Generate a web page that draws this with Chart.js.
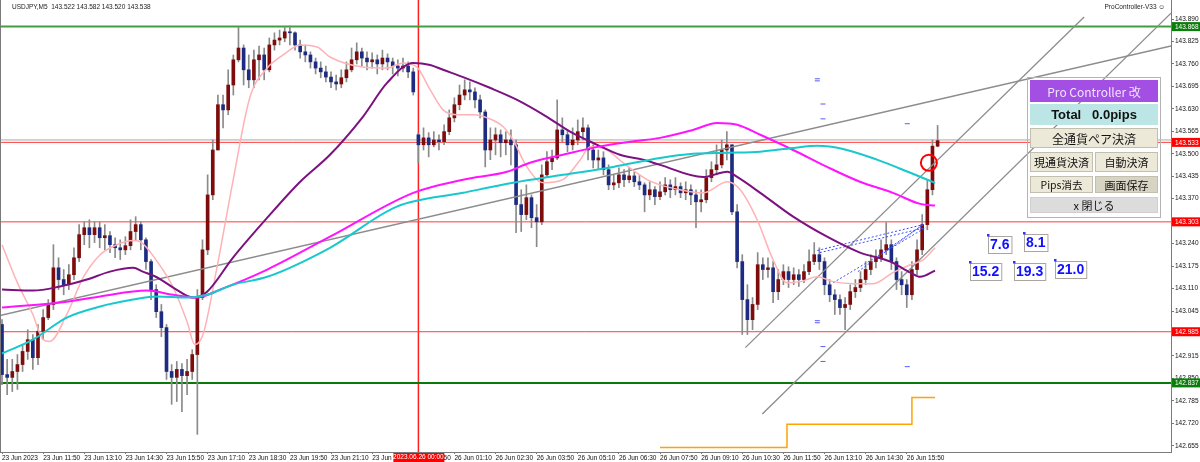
<!DOCTYPE html>
<html>
<head>
<meta charset="utf-8">
<script src="https://cdn.jsdelivr.net/npm/chart.js@4.4.0/dist/chart.umd.min.js"></script>
<style>
    body { margin: 0; background: #fff; }
    #wrap { position: relative; width: 1200px; height: 462px; overflow: hidden; }
    #chart { position: absolute; left: 0; top: 0; }
    .frame { position: absolute; border: 1px solid #b4b4b4; box-sizing: border-box; }
    .btn {
        position: absolute; box-sizing: border-box; display: flex; align-items: center; justify-content: center;
        font-family: "Noto Sans CJK JP", sans-serif; color: #111; border: 1px solid #c2bfb0; background: #ece9d8;
        white-space: nowrap;
    }
</style>
</head>
<body>
<div id="wrap">
    <canvas id="chart" width="1200" height="462"></canvas>
    <div class="frame" style="left:1027px;top:77px;width:134px;height:141px"></div>
    <div class="btn" style="left:1030px;top:80px;width:128px;height:22px;background:#a44fe3;border-color:#a44fe3;color:#efe4ff;font-size:12px">Pro Controller 改</div>
    <div class="btn" style="left:1030px;top:104px;width:128px;height:21px;background:#bce6e6;border-color:#bce6e6;font-size:13px;font-weight:bold;font-family:'Liberation Sans',sans-serif">Total&nbsp;&nbsp;&nbsp;0.0pips</div>
    <div class="btn" style="left:1030px;top:128px;width:128px;height:20px;font-size:12px">全通貨ペア決済</div>
    <div class="btn" style="left:1030px;top:152px;width:63px;height:20px;font-size:11px">現通貨決済</div>
    <div class="btn" style="left:1095px;top:152px;width:63px;height:20px;font-size:11px">自動決済</div>
    <div class="btn" style="left:1030px;top:176px;width:63px;height:17px;font-size:10.5px">Pips消去</div>
    <div class="btn" style="left:1095px;top:176px;width:63px;height:17px;font-size:11px;background:#d8d4c4">画面保存</div>
    <div class="btn" style="left:1030px;top:197px;width:128px;height:16px;font-size:11px;background:#dcdcdc;border-color:#d0d0d0">x 閉じる</div>
</div>
<script>
// USDJPY M5 candles, one entry per bar (23 Jun 10:30 -> 26 Jun 16:40)
const opens = [143.006,142.861,142.853,142.870,142.890,142.928,142.962,142.910,142.986,143.026,
    143.064,143.170,143.136,143.121,143.150,143.199,143.266,143.286,143.266,143.286,
    143.257,143.263,143.237,143.228,143.222,143.234,143.275,143.295,143.251,143.188,
    143.107,143.043,142.997,142.870,142.853,142.876,142.858,142.870,142.919,143.084,
    143.222,143.381,143.511,143.642,143.627,143.699,143.772,143.806,143.743,143.714,
    143.772,143.786,143.743,143.815,143.829,143.835,143.853,143.850,143.815,143.795,
    143.786,143.766,143.748,143.737,143.722,143.708,143.702,143.720,143.743,143.772,
    143.795,143.777,143.766,143.772,143.760,143.777,143.766,143.754,143.748,143.754,
    143.737,143.555,143.526,143.546,143.526,143.540,143.535,143.564,143.604,143.642,
    143.670,143.685,143.679,143.656,143.621,143.511,143.540,143.555,143.532,143.540,
    143.526,143.353,143.324,143.373,143.315,143.303,143.439,143.477,143.488,143.569,
    143.555,143.526,143.540,143.564,143.575,143.511,143.482,143.488,143.454,143.410,
    143.416,143.439,143.425,143.436,143.419,143.410,143.381,143.396,143.376,143.390,
    143.410,143.396,143.405,143.387,143.396,143.381,143.361,143.367,143.431,143.454,
    143.468,143.511,143.526,143.332,143.188,143.078,143.020,143.064,143.179,143.165,
    143.170,143.101,143.136,143.159,143.136,143.150,143.136,143.159,143.188,143.208,
    143.188,143.121,143.092,143.078,143.055,143.064,143.101,143.113,143.136,143.165,
    143.188,143.199,143.222,143.237,143.188,143.136,143.121,143.092,143.165,143.222,
    143.295,143.396,143.522]
const highs = [143.020,142.905,142.905,142.919,142.948,142.991,142.977,143.006,143.049,143.078,
    143.237,143.199,143.165,143.179,143.228,143.295,143.303,143.309,143.303,143.303,
    143.295,143.275,143.257,143.251,143.260,143.309,143.318,143.303,143.257,143.194,
    143.121,143.064,143.006,142.890,142.899,142.893,142.905,142.933,143.107,143.251,
    143.439,143.540,143.670,143.670,143.743,143.786,143.867,143.815,143.786,143.800,
    143.812,143.806,143.835,143.850,143.858,143.867,143.870,143.853,143.829,143.815,
    143.795,143.777,143.766,143.754,143.737,143.728,143.743,143.766,143.806,143.821,
    143.806,143.795,143.792,143.786,143.800,143.789,143.777,143.772,143.777,143.766,
    143.748,143.560,143.575,143.561,143.564,143.555,143.584,143.627,143.662,143.699,
    143.714,143.708,143.691,143.670,143.627,143.575,143.575,143.569,143.564,143.569,
    143.540,143.396,143.410,143.381,143.353,143.468,143.506,143.511,143.656,143.604,
    143.569,143.575,143.598,143.604,143.584,143.526,143.511,143.506,143.468,143.439,
    143.459,143.454,143.459,143.448,143.439,143.416,143.419,143.405,143.419,143.431,
    143.425,143.431,143.416,143.419,143.410,143.396,143.396,143.454,143.477,143.526,
    143.540,143.564,143.526,143.353,143.208,143.121,143.084,143.214,143.199,143.199,
    143.188,143.165,143.179,143.173,143.170,143.165,143.179,143.222,143.243,143.228,
    143.199,143.136,143.107,143.092,143.084,143.121,143.136,143.159,143.188,143.208,
    143.222,143.251,143.301,143.251,143.199,143.159,143.136,143.188,143.251,143.324,
    143.425,143.540,143.582]
const lows = [142.832,142.803,142.812,142.818,142.870,142.905,142.876,142.890,142.962,143.020,
    143.049,143.107,143.092,143.107,143.136,143.188,143.237,143.228,143.243,143.228,
    143.222,143.214,143.199,143.194,143.208,143.222,143.251,143.222,143.165,143.078,
    143.026,142.971,142.847,142.775,142.783,142.754,142.803,142.847,142.688,143.078,
    143.208,143.367,143.511,143.575,143.613,143.670,143.766,143.699,143.691,143.691,
    143.714,143.714,143.737,143.800,143.815,143.824,143.815,143.800,143.777,143.766,
    143.748,143.731,143.720,143.708,143.691,143.685,143.691,143.708,143.737,143.760,
    143.754,143.743,143.748,143.731,143.743,143.743,143.731,143.725,143.737,143.720,
    143.670,143.474,143.511,143.491,143.520,143.511,143.526,143.555,143.592,143.627,
    143.656,143.656,143.633,143.604,143.462,143.483,143.497,143.491,143.497,143.468,
    143.272,143.275,143.309,143.286,143.231,143.295,143.431,143.454,143.483,143.535,
    143.506,143.511,143.526,143.540,143.482,143.459,143.454,143.439,143.396,143.396,
    143.402,143.405,143.416,143.405,143.396,143.332,143.367,143.353,143.367,143.381,
    143.373,143.381,143.373,143.367,143.353,143.286,143.332,143.358,143.419,143.439,
    143.459,143.482,143.324,143.170,142.977,142.977,142.991,143.049,143.136,143.142,
    143.069,143.078,143.121,143.113,143.121,143.116,143.127,143.150,143.179,143.165,
    143.092,143.072,143.035,143.035,142.991,143.049,143.084,143.101,143.121,143.150,
    143.170,143.188,143.208,143.165,143.107,143.092,143.055,143.078,143.150,143.208,
    143.280,143.381,143.520]
const closes = [142.861,142.853,142.870,142.890,142.928,142.962,142.910,142.986,143.026,143.064,
    143.170,143.136,143.121,143.150,143.199,143.266,143.286,143.266,143.286,143.257,
    143.263,143.237,143.228,143.222,143.234,143.275,143.295,143.251,143.188,143.107,
    143.043,142.997,142.870,142.853,142.876,142.858,142.870,142.919,143.084,143.222,
    143.381,143.511,143.642,143.627,143.699,143.772,143.806,143.743,143.714,143.772,
    143.786,143.743,143.815,143.829,143.835,143.853,143.850,143.815,143.795,143.786,
    143.766,143.748,143.737,143.722,143.708,143.702,143.720,143.743,143.772,143.795,
    143.777,143.766,143.772,143.760,143.777,143.766,143.754,143.748,143.754,143.737,
    143.679,143.526,143.546,143.526,143.540,143.535,143.564,143.604,143.642,143.670,
    143.685,143.679,143.656,143.621,143.511,143.540,143.555,143.532,143.540,143.526,
    143.353,143.324,143.373,143.315,143.303,143.439,143.477,143.488,143.569,143.555,
    143.526,143.540,143.564,143.575,143.511,143.482,143.488,143.454,143.410,143.416,
    143.439,143.425,143.436,143.419,143.410,143.381,143.396,143.376,143.390,143.410,
    143.396,143.405,143.387,143.396,143.381,143.361,143.367,143.431,143.454,143.468,
    143.511,143.526,143.332,143.188,143.078,143.020,143.064,143.179,143.165,143.170,
    143.101,143.136,143.159,143.136,143.150,143.136,143.159,143.188,143.208,143.188,
    143.121,143.092,143.078,143.055,143.064,143.101,143.113,143.136,143.165,143.188,
    143.199,143.222,143.237,143.188,143.136,143.121,143.092,143.165,143.222,143.295,
    143.396,143.522,143.538]

// moving averages, sampled along the curves (bar index, price)
const pinkX = [0,2.9,6,8,9.3,12.6,15.8,19.1,22.4,25.5,26.8,30.2,33.3,36,37.5,39.1,41.8,44.9,48.2,51.6,
    54.7,58,61.3,63.8,70.2,74.9,78,80.7,83.3,85.8,88.5,91.6,94.4,97.5,99.4,102.1,105.3,109.1,112.5,114.4,
    117.7,120.8,125.5,128,131.9,136.4,141.1,143.6,146.9,150,152.7,155.3,158.6,161.7,165.6,169.5,173.3,176.7,179.2,181.5]
const pinkY = [143.237,143.130,143.035,142.962,142.957,143.035,143.142,143.208,143.237,143.249,
    143.246,143.188,143.113,143.014,142.948,142.977,143.170,143.419,143.662,143.748,
    143.786,143.815,143.809,143.780,143.751,143.748,143.763,143.751,143.685,143.627,
    143.613,143.613,143.604,143.578,143.540,143.462,143.416,143.425,143.483,143.520,
    143.511,143.474,143.425,143.410,143.396,143.387,143.419,143.396,143.309,143.193,
    143.127,143.130,143.144,143.130,143.124,143.124,143.156,143.179,143.193,143.228]
const purpleX = [0,6,11.3,16.5,21,25.5,27.4,30.2,33.3,37.2,39.9,44.9,51.6,58,63.8,70.2,74.9,80,83.3,85.8,
    89.7,94.9,100.2,106,110.5,115.8,120.2,124.7,128,136.4,141.1,143,147.5,153.9,160.5,166.9,172.8,176.7,178.6,181.5]
const purpleY = [143.107,143.104,143.116,143.136,143.159,143.170,143.159,143.142,143.113,143.084,
    143.101,143.199,143.315,143.419,143.497,143.607,143.705,143.763,143.757,143.743,
    143.722,143.691,143.656,143.607,143.564,143.526,143.497,143.483,143.468,143.433,
    143.448,143.433,143.387,143.318,143.260,143.214,143.188,143.156,143.144,143.162]
const magentaX = [0,12.6,19.1,28.2,33.3,37.9,42.4,51.6,63.8,80,89.7,98.2,102.7,109.1,115.8,122.2,128,134.4,
    139.1,143,147.5,153.9,160.5,166.9,173.3,178.6,181.5]
const magentaY = [143.055,143.072,143.087,143.104,143.092,143.084,143.107,143.165,143.260,143.387,143.425,
    143.448,143.474,143.497,143.520,143.535,143.546,143.569,143.589,143.584,143.555,143.511,143.462,143.419,
    143.387,143.355,143.350]
const cyanX = [0,6,12.6,19.1,25.5,30.2,36,39.9,44.9,51.6,63.8,76.8,89.7,99.4,109.1,118.9,128,134.4,141.1,
    147.5,153.9,158.6,163.6,170.2,176.7,181.5]
const cyanY = [142.922,142.962,143.026,143.058,143.078,143.087,143.084,143.092,143.121,143.144,143.228,
    143.347,143.387,143.416,143.439,143.462,143.488,143.500,143.503,143.506,143.517,143.523,143.514,143.483,
    143.445,143.416]

// step indicator at the bottom
const stepX = [128, 152.7, 177, 181.5]
const stepY = [142.650, 142.717, 142.795, 142.795]

// horizontal levels
const levels = [143.868, 143.540, 143.533, 143.303, 142.985, 142.837]
const levelColors = ['#3f9f3f', '#a8a8a8', '#ff3b3b', '#ff3b3b', '#ff3b3b', '#0b780b']
const levelWidths = [2, 1, 1, 1, 1, 2]
const tagLevels = [143.868, 143.533, 143.303, 142.985, 142.837]
const tagColors = ['#0b7d0b', '#ff0000', '#ff0000', '#ff0000', '#0b7d0b']

// trend lines: start/end bar index and price
const trendX = [[-0.4, 227.4], [144.6, 210.5], [147.9, 227.4]]
const trendY = [[143.032, 143.812], [142.939, 143.896], [142.747, 143.907]]

// dotted fan lines
const fanX = [[158.6, 179.2], [159.1, 179.6], [161.7, 179.6], [166.5, 179.2], [169.8, 179.2]]
const fanY = [[143.220, 143.295], [143.214, 143.286], [143.127, 143.286], [143.159, 143.295], [143.199, 143.295]]

// small blue marks
const markX = [158.6, 158.6, 159.7, 159.7, 176.1, 158.6, 158.6, 159.7, 159.7, 176.1]
const markY = [143.717, 143.711, 143.644, 143.601, 143.587, 143.017, 143.011, 142.942, 142.899, 142.884]

// pips labels
const pipText = ['7.6', '8.1', '15.2', '19.3', '21.0']
const pipX = [191.8, 198.8, 188.3, 196.9, 204.9]
const pipY = [143.266, 143.272, 143.188, 143.188, 143.194]

const circleX = 180.3
const circleY = 143.474
const sessionBar = 81

const priceTicks = [143.890, 143.825, 143.760, 143.695, 143.630, 143.565, 143.500, 143.435, 143.370, 143.305,
    143.240, 143.175, 143.110, 143.045, 142.980, 142.915, 142.850, 142.785, 142.720, 142.655]
const timeTickBars = [0, 8, 16, 24, 32, 40, 48, 56, 64, 72, 80, 88, 96, 104, 112, 120, 128, 136, 144, 152, 160, 168, 176]
const timeLabels = ['23 Jun 2023', '23 Jun 11:50', '23 Jun 13:10', '23 Jun 14:30', '23 Jun 15:50', '23 Jun 17:10',
    '23 Jun 18:30', '23 Jun 19:50', '23 Jun 21:10', '23 Jun 22:30', '23 Jun 23:50', '26 Jun 01:10', '26 Jun 02:30',
    '26 Jun 03:50', '26 Jun 05:10', '26 Jun 06:30', '26 Jun 07:50', '26 Jun 09:10', '26 Jun 10:30', '26 Jun 11:50',
    '26 Jun 13:10', '26 Jun 14:30', '26 Jun 15:50']

const X_MIN = -0.39
const X_MAX = 227.4
const Y_MIN = 142.637
const Y_MAX = 143.945
const AXIS_FONT = { family: 'Liberation Sans', size: 6.5 }

function pts(xs, ys) {
    return xs.map((x, i) => ({ x: x, y: ys[i] }))
}

function lineSet(xs, ys, color, width, extra) {
    return Object.assign({
        type: 'line',
        data: pts(xs, ys),
        borderColor: color,
        borderWidth: width,
        pointRadius: 0,
        fill: false,
        order: 2
    }, extra || {})
}

function buildDatasets() {
    const idx = closes.map((c, i) => i)
    const sets = []

    levels.forEach((v, i) => {
        sets.push(lineSet([X_MIN, X_MAX], [v, v], levelColors[i], levelWidths[i], { order: 20 }))
    })
    sets.push(lineSet([sessionBar, sessionBar], [Y_MIN, Y_MAX], '#ff2020', 1.5, { order: 20 }))

    sets.push({
        type: 'bar',
        data: idx.map(i => ({ x: i, y: [lows[i], highs[i]] })),
        backgroundColor: '#8a8a8a',
        barThickness: 1,
        grouped: false,
        order: 11
    })
    sets.push({
        type: 'bar',
        data: idx.map(i => ({ x: i, y: [opens[i], closes[i]] })),
        backgroundColor: idx.map(i => closes[i] >= opens[i] ? '#7d0d0d' : '#1d2c82'),
        barThickness: 3,
        minBarLength: 1,
        grouped: false,
        order: 10
    })

    trendX.forEach((xs, i) => {
        sets.push(lineSet(xs, trendY[i], '#8c8c8c', 1.3, { order: 5 }))
    })
    fanX.forEach((xs, i) => {
        sets.push(lineSet(xs, fanY[i], '#3a4cff', 1, { borderDash: [2, 2], order: 4 }))
    })

    sets.push(lineSet(cyanX, cyanY, '#19c8cc', 2, { cubicInterpolationMode: 'monotone' }))
    sets.push(lineSet(magentaX, magentaY, '#ff14ff', 2, { cubicInterpolationMode: 'monotone' }))
    sets.push(lineSet(purpleX, purpleY, '#7c1180', 2, { cubicInterpolationMode: 'monotone' }))
    sets.push(lineSet(pinkX, pinkY, '#ffb2b6', 1.5, { cubicInterpolationMode: 'monotone' }))
    sets.push(lineSet(stepX, stepY, '#ffa300', 1.5, { stepped: 'before' }))

    sets.push({
        type: 'scatter',
        data: pts(markX, markY),
        pointStyle: 'line',
        pointRadius: 2.5,
        borderColor: '#5a5aff',
        borderWidth: 1,
        order: 1
    })
    sets.push({
        type: 'scatter',
        data: [{ x: circleX, y: circleY }],
        pointStyle: 'circle',
        pointRadius: 8,
        borderColor: '#ff0000',
        backgroundColor: 'rgba(0,0,0,0)',
        borderWidth: 2,
        order: 0
    })
    return sets
}

const overlay = {
    id: 'overlay',
    afterDraw(chart) {
        const ctx = chart.ctx
        const xs = chart.scales.x
        const ys = chart.scales.y
        const area = chart.chartArea
        ctx.save()

        // left frame
        ctx.strokeStyle = '#7a7a7a'
        ctx.lineWidth = 1
        ctx.beginPath()
        ctx.moveTo(area.left + 0.5, area.top)
        ctx.lineTo(area.left + 0.5, area.bottom)
        ctx.stroke()

        // header
        const n = closes.length - 1
        ctx.font = '6.5px "Liberation Sans"'
        ctx.fillStyle = '#222'
        ctx.textBaseline = 'middle'
        ctx.textAlign = 'left'
        ctx.fillText('USDJPY,M5  ' + [opens[n], highs[n], lows[n], closes[n]].map(v => v.toFixed(3)).join(' '), 12, 7)
        ctx.textAlign = 'right'
        ctx.fillText('ProController-V33 \u263A', 1165, 7)

        // pips labels
        ctx.font = 'bold 14px "Liberation Sans"'
        ctx.textAlign = 'left'
        pipText.forEach((t, i) => {
            const px = Math.round(xs.getPixelForValue(pipX[i]))
            const py = Math.round(ys.getPixelForValue(pipY[i]))
            const w = ctx.measureText(t).width + 4
            ctx.fillStyle = '#fff'
            ctx.fillRect(px, py + 1, w, 17)
            ctx.strokeStyle = '#aaa59e'
            ctx.strokeRect(px + 0.5, py + 1.5, w, 17)
            ctx.fillStyle = '#1010ff'
            ctx.fillText(t, px + 2, py + 10.5)
            ctx.fillStyle = '#3030ff'
            ctx.fillRect(px - 1, py - 1, 2.5, 2.5)
        })

        // price tags on the axis
        ctx.font = '6.5px "Liberation Sans"'
        tagLevels.forEach((v, i) => {
            const py = ys.getPixelForValue(v)
            ctx.fillStyle = tagColors[i]
            ctx.fillRect(area.right + 1, py - 4.5, 28, 9)
            ctx.fillStyle = '#fff'
            ctx.fillText(v.toFixed(3), area.right + 4, py + 0.5)
        })

        // session start tag
        const sx = xs.getPixelForValue(sessionBar)
        ctx.fillStyle = '#ff0000'
        ctx.fillRect(sx - 25, area.bottom + 1, 51, 9)
        ctx.fillStyle = '#fff'
        ctx.textAlign = 'center'
        ctx.fillText('2023.06.26 00:00', sx, area.bottom + 5.5)
        ctx.restore()
    }
}

function renderChart() {
    const ctx = document.querySelector('#chart').getContext('2d')
    new Chart(ctx, {
        type: 'bar',
        data: { datasets: buildDatasets() },
        options: {
            responsive: false,
            animation: false,
            devicePixelRatio: 1,
            layout: { padding: 0, autoPadding: false },
            plugins: { legend: { display: false }, tooltip: { enabled: false } },
            scales: {
                x: {
                    type: 'linear',
                    min: X_MIN,
                    max: X_MAX,
                    offset: false,
                    grid: { display: true, drawOnChartArea: false, offset: false, tickLength: 2, color: '#7a7a7a' },
                    border: { display: true, color: '#7a7a7a' },
                    afterBuildTicks: s => { s.ticks = timeTickBars.map(v => ({ value: v })) },
                    afterFit: s => {
                        s.height = 10
                        s.paddingLeft = 0
                        s.paddingRight = 0
                    },
                    ticks: {
                        autoSkip: false,
                        maxRotation: 0,
                        align: 'start',
                        padding: 0,
                        font: AXIS_FONT,
                        color: '#111',
                        callback: (v, i) => timeLabels[i]
                    }
                },
                y: {
                    position: 'right',
                    min: Y_MIN,
                    max: Y_MAX,
                    grid: { display: true, drawOnChartArea: false, tickLength: 3, color: '#7a7a7a' },
                    border: { display: true, color: '#7a7a7a' },
                    afterBuildTicks: s => { s.ticks = priceTicks.map(v => ({ value: v })) },
                    afterFit: s => {
                        s.width = 29
                        s.paddingTop = 0
                        s.paddingBottom = 0
                    },
                    ticks: {
                        autoSkip: false,
                        padding: 1,
                        font: AXIS_FONT,
                        color: '#111',
                        callback: v => v.toFixed(3)
                    }
                }
            }
        },
        plugins: [overlay]
    })
}

renderChart()
</script>
</body>
</html>
